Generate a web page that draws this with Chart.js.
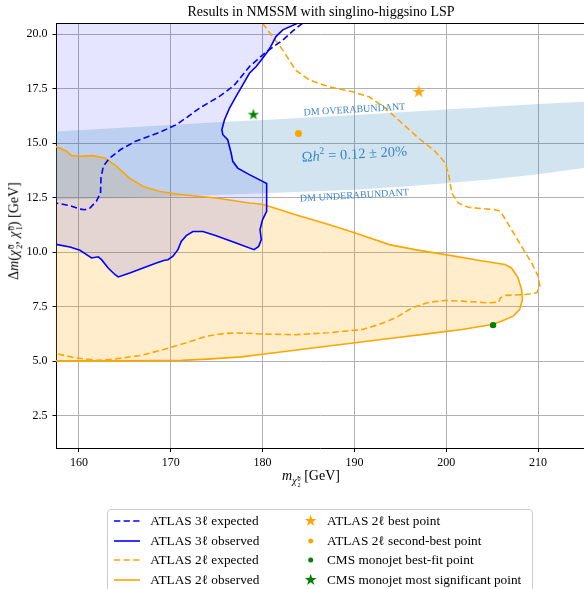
<!DOCTYPE html>
<html>
<head>
<meta charset="utf-8">
<script src="https://cdn.jsdelivr.net/npm/chart.js@4.4.1/dist/chart.umd.min.js"></script>
<style>
  html, body { margin: 0; padding: 0; background: #fff; }
  #wrap { position: relative; width: 584px; height: 589px; overflow: hidden;
          font-family: 'Liberation Serif', 'DejaVu Serif', serif; color: #000; }
  #chart { position: absolute; left: 0; top: 0; }
  .title { position: absolute; left: 321px; top: 4px; transform: translateX(-50%);
           font-size: 14px; white-space: nowrap; }
  .xlabel { position: absolute; left: 311px; top: 468px; transform: translateX(-50%);
            font-size: 14px; white-space: nowrap; }
  .ylabel { position: absolute; left: 15px; top: 231px; transform: translate(-50%, -50%) rotate(-90deg);
            font-size: 14px; white-space: nowrap; }
  .sub { font-size: 0.72em; vertical-align: -0.35em; }
  .ss { display: inline-block; font-size: 0.62em; line-height: 0.95; vertical-align: -0.5em;
        margin-left: 1px; text-align: left; }
  .ss > span { display: block; }
  .legend { position: absolute; left: 107px; top: 509px; width: 426px; height: 92px;
            border: 1px solid #cccccc; border-radius: 4px; background: rgba(255,255,255,0.8);
            box-sizing: border-box; font-size: 13.3px; }
  .item { position: absolute; height: 18px; line-height: 18px; white-space: nowrap; }
  .item svg { position: absolute; top: 0; }
</style>
</head>
<body>
<div id="wrap">
  <canvas id="chart" width="584" height="589"></canvas>
  <div class="title">Results in NMSSM with singlino-higgsino LSP</div>
  <div class="xlabel"><i>m</i><span class="sub"><i>χ̃</i><span class="ss"><span>0</span><span>2</span></span></span> [GeV]</div>
  <div class="ylabel">Δ<i>m</i>(<i>χ̃</i><span class="ss"><span>0</span><span>2</span></span>, <i>χ̃</i><span class="ss"><span>0</span><span>1</span></span>) [GeV]</div>
  <div class="legend" id="legend"></div>
</div>
<script>
// Axis ranges and tick positions
const X_MIN = 157.5, X_MAX = 215;
const Y_MIN = 1, Y_MAX = 20.5;
const xTicks = [160, 170, 180, 190, 200, 210];
const yTicks = [2.5, 5, 7.5, 10, 12.5, 15, 17.5, 20];

// ATLAS 3-lepton contours  [m(chi2), delta m]
const atlas3lObserved = [
  [183.8, 20.5], [182.2, 20.2], [181.45, 19.89], [180.9, 19.44], [180.55, 19.21],
  [180.0, 18.9], [179.3, 18.52], [178.56, 18.21], [177.84, 17.68], [177.11, 17.15],
  [176.4, 16.61], [175.85, 16.08], [175.56, 15.62], [175.67, 15.39], [176.2, 15.16],
  [176.57, 14.55], [176.75, 14.17], [177.29, 13.86], [178.56, 13.56], [180.0, 13.25],
  [180.44, 13.15], [180.44, 11.88], [180.0, 11.5], [179.72, 11.04], [179.86, 10.58],
  [179.57, 10.27], [179.07, 10.12], [177.11, 10.43], [174.94, 10.76], [173.5, 10.95],
  [172.41, 10.95], [171.69, 10.76], [171.14, 10.5], [170.78, 10.12], [170.24, 9.82],
  [169.7, 9.66], [169.33, 9.63], [168.43, 9.51], [166.98, 9.28], [165.54, 9.05],
  [164.27, 8.87], [163.91, 8.98], [163.18, 9.28], [162.46, 9.66], [162.1, 9.79],
  [161.37, 9.74], [160.83, 9.89], [160.11, 10.09], [159.02, 10.24], [157.5, 10.36]
];
const atlas3lExpected = [
  [184.34, 20.5], [183.3, 20.15], [182.2, 19.73], [180.4, 19.19], [178.55, 18.51],
  [176.9, 17.65], [175.3, 17.15], [173.1, 16.6], [171.8, 16.2], [170.6, 15.85],
  [168.8, 15.5], [167.5, 15.3], [166.1, 15.08], [164.5, 14.7], [163.3, 14.3],
  [162.65, 13.94], [162.4, 13.4], [162.35, 12.72], [161.9, 12.34], [161.2, 12.03],
  [160.65, 11.95], [160.1, 11.98], [159.1, 12.13], [157.5, 12.26]
];

// ATLAS 2-lepton contours
const atlas2lObserved = [
  [157.5, 14.85], [158.66, 14.63], [159.2, 14.43], [160.1, 14.4], [161.5, 14.43],
  [162.8, 14.32], [164.1, 13.94], [165.5, 13.4], [167.0, 13.02], [168.8, 12.79],
  [171.3, 12.64], [174.9, 12.49], [178.6, 12.26], [180.0, 12.2], [183.6, 11.72],
  [187.2, 11.27], [190.1, 10.88], [193.8, 10.35], [196.6, 10.12], [199.9, 9.89],
  [203.5, 9.63], [206.4, 9.44], [207.1, 9.28], [207.8, 8.85], [208.2, 8.3],
  [208.3, 7.84], [208.0, 7.38], [207.3, 7.07], [206.0, 6.84], [205.0, 6.69],
  [201.7, 6.46], [198.1, 6.27], [194.5, 6.08], [190.1, 5.85], [187.2, 5.7],
  [183.7, 5.52], [180.0, 5.32], [177.7, 5.2], [174.0, 5.1], [171.2, 5.04],
  [165.0, 5.02], [157.5, 5.02]
];
const atlas2lExpected = [
  [180.0, 20.5], [181.1, 19.88], [182.2, 19.27], [183.6, 18.35], [185.1, 17.9],
  [187.2, 17.59], [189.8, 17.36], [191.6, 17.13], [193.4, 16.6], [195.2, 15.91],
  [197.0, 15.23], [198.8, 14.62], [199.9, 14.09], [200.3, 13.48], [200.6, 12.71],
  [201.3, 12.26], [202.4, 12.06], [205.3, 11.95], [205.9, 11.88], [207.1, 11.04],
  [208.2, 10.27], [209.3, 9.51], [210.0, 8.9], [210.2, 8.45], [209.85, 8.14],
  [208.6, 8.06], [206.4, 8.02], [205.9, 7.91], [205.7, 7.71], [204.6, 7.68],
  [201.7, 7.76], [199.9, 7.79], [198.1, 7.71], [196.3, 7.45], [194.5, 7.0],
  [192.7, 6.69], [190.9, 6.46], [187.2, 6.31], [183.6, 6.22], [180.0, 6.25],
  [177.3, 6.3], [175.7, 6.27], [173.9, 6.15], [171.7, 5.85], [169.2, 5.54],
  [166.8, 5.27], [163.6, 5.09], [162.0, 5.04], [159.5, 5.16], [157.5, 5.36]
];

// Benchmark points
const atlas2lBest = [[197.0, 17.36]];
const atlas2lSecondBest = [[183.9, 15.45]];
const cmsBestFit = [[205.1, 6.66]];
const cmsMostSignificant = [[179.0, 16.31]];

// Relic density band Omega h^2 = 0.12 +- 20%
const bandMass  = [157.5, 160, 165, 170, 175, 180, 185, 190, 195, 200, 205, 210, 215];
const bandUpper = [15.54, 15.6, 15.72, 15.84, 15.96, 16.07, 16.18, 16.3, 16.42, 16.55, 16.67, 16.8, 16.9];
const bandLower = [12.41, 12.44, 12.5, 12.56, 12.63, 12.71, 12.79, 12.87, 13.0, 13.17, 13.35, 13.58, 13.86];

// Styling
const BLUE = '#0000ff', ORANGE = '#ffa500', GREEN = '#008000';
const BAND = 'rgba(31,119,180,0.2)';
const TEXT_BLUE = '#3a86c4';
const SERIF = "'Liberation Serif', 'DejaVu Serif', serif";
const DASH = [6.3, 3.3];

const pts = arr => arr.map(([x, y]) => ({ x, y }));

function starCanvas(color, outerR) {
  const size = Math.ceil(outerR * 2 + 2);
  const c = document.createElement('canvas');
  c.width = c.height = size;
  const g = c.getContext('2d');
  g.translate(size / 2, size / 2);
  g.beginPath();
  for (let i = 0; i < 10; i++) {
    const r = i % 2 ? outerR * 0.381 : outerR;
    const a = -Math.PI / 2 + i * Math.PI / 5;
    g.lineTo(r * Math.cos(a), r * Math.sin(a));
  }
  g.closePath();
  g.fillStyle = color;
  g.fill();
  return c;
}

// Excluded regions closed along the plot edges
const atlas3lRegion = [...atlas3lObserved, [X_MIN, Y_MAX]];
const atlas2lRegion = atlas2lObserved;

const lineStyle = (color, dashed) => ({
  borderColor: color, borderWidth: 1.6, borderDash: dashed ? DASH : [],
  fill: false, pointRadius: 0, tension: 0
});

const datasets = [
  { label: 'band-lower', data: bandMass.map((m, i) => ({ x: m, y: bandLower[i] })),
    borderWidth: 0, pointRadius: 0, fill: false, order: 8 },
  { label: 'band-upper', data: bandMass.map((m, i) => ({ x: m, y: bandUpper[i] })),
    borderWidth: 0, pointRadius: 0, fill: { target: 0 }, backgroundColor: BAND, order: 8 },
  { label: 'atlas2l-region', data: pts(atlas2lRegion), borderWidth: 0, pointRadius: 0,
    fill: 'shape', backgroundColor: 'rgba(255,165,0,0.2)', order: 10 },
  { label: 'atlas3l-region', data: pts(atlas3lRegion), borderWidth: 0, pointRadius: 0,
    fill: 'shape', backgroundColor: 'rgba(0,0,255,0.1)', order: 9 },
  { label: 'ATLAS 2ℓ expected', data: pts(atlas2lExpected), ...lineStyle(ORANGE, true), order: 6 },
  { label: 'ATLAS 2ℓ observed', data: pts(atlas2lObserved), ...lineStyle(ORANGE, false), order: 6 },
  { label: 'ATLAS 3ℓ expected', data: pts(atlas3lExpected), ...lineStyle(BLUE, true), order: 5 },
  { label: 'ATLAS 3ℓ observed', data: pts(atlas3lObserved), ...lineStyle(BLUE, false), order: 5 },
  { label: 'ATLAS 2ℓ best point', data: pts(atlas2lBest), showLine: false,
    pointStyle: starCanvas(ORANGE, 6.8), pointRadius: 6, order: 1 },
  { label: 'ATLAS 2ℓ second-best point', data: pts(atlas2lSecondBest), showLine: false,
    pointStyle: 'circle', pointRadius: 3.5, backgroundColor: ORANGE, borderWidth: 0, order: 1 },
  { label: 'CMS monojet best-fit point', data: pts(cmsBestFit), showLine: false,
    pointStyle: 'circle', pointRadius: 3.2, backgroundColor: GREEN, borderWidth: 0, order: 1 },
  { label: 'CMS monojet most significant point', data: pts(cmsMostSignificant), showLine: false,
    pointStyle: starCanvas(GREEN, 6.0), pointRadius: 6, order: 1 }
];

// Top frame line of the axes box
const topSpine = {
  id: 'topSpine',
  afterDraw(chart) {
    const { ctx, chartArea: a } = chart;
    ctx.save();
    ctx.strokeStyle = '#000';
    ctx.lineWidth = 1;
    ctx.beginPath();
    ctx.moveTo(a.left, Math.round(a.top) + 0.5);
    ctx.lineTo(a.right, Math.round(a.top) + 0.5);
    ctx.stroke();
    ctx.restore();
  }
};

// Labels on the relic-density band
const bandNotes = {
  id: 'bandNotes',
  afterDatasetsDraw(chart) {
    const { ctx, scales: { x, y } } = chart;
    const ang = -3.3 * Math.PI / 180;
    ctx.save();
    ctx.fillStyle = TEXT_BLUE;
    ctx.textBaseline = 'middle';
    const plain = [['DM OVERABUNDANT', 190.0, 16.53], ['DM UNDERABUNDANT', 190.0, 12.59]];
    for (const [t, mx, my] of plain) {
      ctx.save();
      ctx.translate(x.getPixelForValue(mx), y.getPixelForValue(my));
      ctx.rotate(ang);
      ctx.font = `10px ${SERIF}`;
      ctx.textAlign = 'center';
      ctx.fillText(t, 0, 0);
      ctx.restore();
    }
    // Omega h^2 = 0.12 +- 20%
    const parts = [
      ['Ω', `14.5px ${SERIF}`, 0],
      ['h', `italic 14.5px ${SERIF}`, 0],
      ['2', `10px ${SERIF}`, -5.5],
      [' = 0.12 ± 20%', `14.5px ${SERIF}`, 0]
    ];
    let total = 0;
    for (const [t, f] of parts) { ctx.font = f; total += ctx.measureText(t).width; }
    ctx.save();
    ctx.translate(x.getPixelForValue(190.0), y.getPixelForValue(14.47));
    ctx.rotate(ang);
    ctx.textAlign = 'left';
    let cx = -total / 2;
    for (const [t, f, dy] of parts) {
      ctx.font = f;
      ctx.fillText(t, cx, dy);
      cx += ctx.measureText(t).width;
    }
    ctx.restore();
    ctx.restore();
  }
};

const tickFont = { family: SERIF, size: 12 };
const gridOpts = { color: '#b0b0b0', lineWidth: 1, tickColor: '#000', tickLength: 3.5, tickWidth: 1 };

new Chart(document.getElementById('chart'), {
  type: 'line',
  data: { datasets },
  options: {
    responsive: false,
    animation: false,
    events: [],
    devicePixelRatio: 1,
    layout: { autoPadding: false, padding: { top: 23.3, left: 0, right: 0, bottom: 110.5 } },
    plugins: { legend: { display: false }, title: { display: false }, tooltip: { enabled: false } },
    scales: {
      x: {
        type: 'linear', min: X_MIN, max: X_MAX,
        afterBuildTicks: s => { s.ticks = xTicks.map(v => ({ value: v })); },
        afterFit: s => { s.height = 30; s.paddingLeft = 0; s.paddingRight = 0; },
        ticks: { font: tickFont, color: '#000', padding: 4, autoSkip: false, maxRotation: 0,
                 callback: v => String(v) },
        grid: gridOpts,
        border: { color: '#000', width: 1 }
      },
      y: {
        type: 'linear', min: Y_MIN, max: Y_MAX,
        afterBuildTicks: s => { s.ticks = yTicks.map(v => ({ value: v })); },
        afterFit: s => { s.width = 56; s.paddingTop = 0; s.paddingBottom = 0; },
        ticks: { font: tickFont, color: '#000', padding: 5, autoSkip: false,
                 callback: v => Number(v).toFixed(1) },
        grid: gridOpts,
        border: { color: '#000', width: 1 }
      }
    }
  },
  plugins: [bandNotes, topSpine]
});

// Legend
const legendItems = [
  { col: 0, row: 0, label: 'ATLAS 3ℓ expected', kind: 'line', color: BLUE, dashed: true },
  { col: 0, row: 1, label: 'ATLAS 3ℓ observed', kind: 'line', color: BLUE, dashed: false },
  { col: 0, row: 2, label: 'ATLAS 2ℓ expected', kind: 'line', color: ORANGE, dashed: true },
  { col: 0, row: 3, label: 'ATLAS 2ℓ observed', kind: 'line', color: ORANGE, dashed: false },
  { col: 1, row: 0, label: 'ATLAS 2ℓ best point', kind: 'star', color: ORANGE, size: 6.2 },
  { col: 1, row: 1, label: 'ATLAS 2ℓ second-best point', kind: 'dot', color: ORANGE, size: 2.5 },
  { col: 1, row: 2, label: 'CMS monojet best-fit point', kind: 'dot', color: GREEN, size: 2.5 },
  { col: 1, row: 3, label: 'CMS monojet most significant point', kind: 'star', color: GREEN, size: 6.2 }
];
const rowCenters = [11, 30.7, 50.3, 70];
const legendEl = document.getElementById('legend');
const NS = 'http://www.w3.org/2000/svg';
for (const it of legendItems) {
  const div = document.createElement('div');
  div.className = 'item';
  div.style.top = (rowCenters[it.row] - 9) + 'px';
  div.style.left = (it.col === 0 ? 5.5 : 187) + 'px';
  const svg = document.createElementNS(NS, 'svg');
  svg.setAttribute('width', 26); svg.setAttribute('height', 18);
  svg.style.left = '0px';
  if (it.kind === 'line') {
    const l = document.createElementNS(NS, 'line');
    l.setAttribute('x1', 0); l.setAttribute('x2', 26); l.setAttribute('y1', 9); l.setAttribute('y2', 9);
    l.setAttribute('stroke', it.color); l.setAttribute('stroke-width', 1.6);
    if (it.dashed) l.setAttribute('stroke-dasharray', DASH.join(' '));
    svg.appendChild(l);
  } else if (it.kind === 'dot') {
    const c = document.createElementNS(NS, 'circle');
    c.setAttribute('cx', 15.7); c.setAttribute('cy', 9); c.setAttribute('r', it.size);
    c.setAttribute('fill', it.color);
    svg.appendChild(c);
  } else {
    const p = document.createElementNS(NS, 'polygon');
    const ptsStr = [];
    for (let i = 0; i < 10; i++) {
      const r = i % 2 ? it.size * 0.381 : it.size;
      const a = -Math.PI / 2 + i * Math.PI / 5;
      ptsStr.push((15.7 + r * Math.cos(a)).toFixed(2) + ',' + (9 + r * Math.sin(a)).toFixed(2));
    }
    p.setAttribute('points', ptsStr.join(' '));
    p.setAttribute('fill', it.color);
    svg.appendChild(p);
  }
  div.appendChild(svg);
  const span = document.createElement('span');
  span.textContent = it.label;
  span.style.position = 'absolute';
  span.style.left = (it.col === 0 ? 36.8 : 32) + 'px';
  div.appendChild(span);
  legendEl.appendChild(div);
}
</script>
</body>
</html>
